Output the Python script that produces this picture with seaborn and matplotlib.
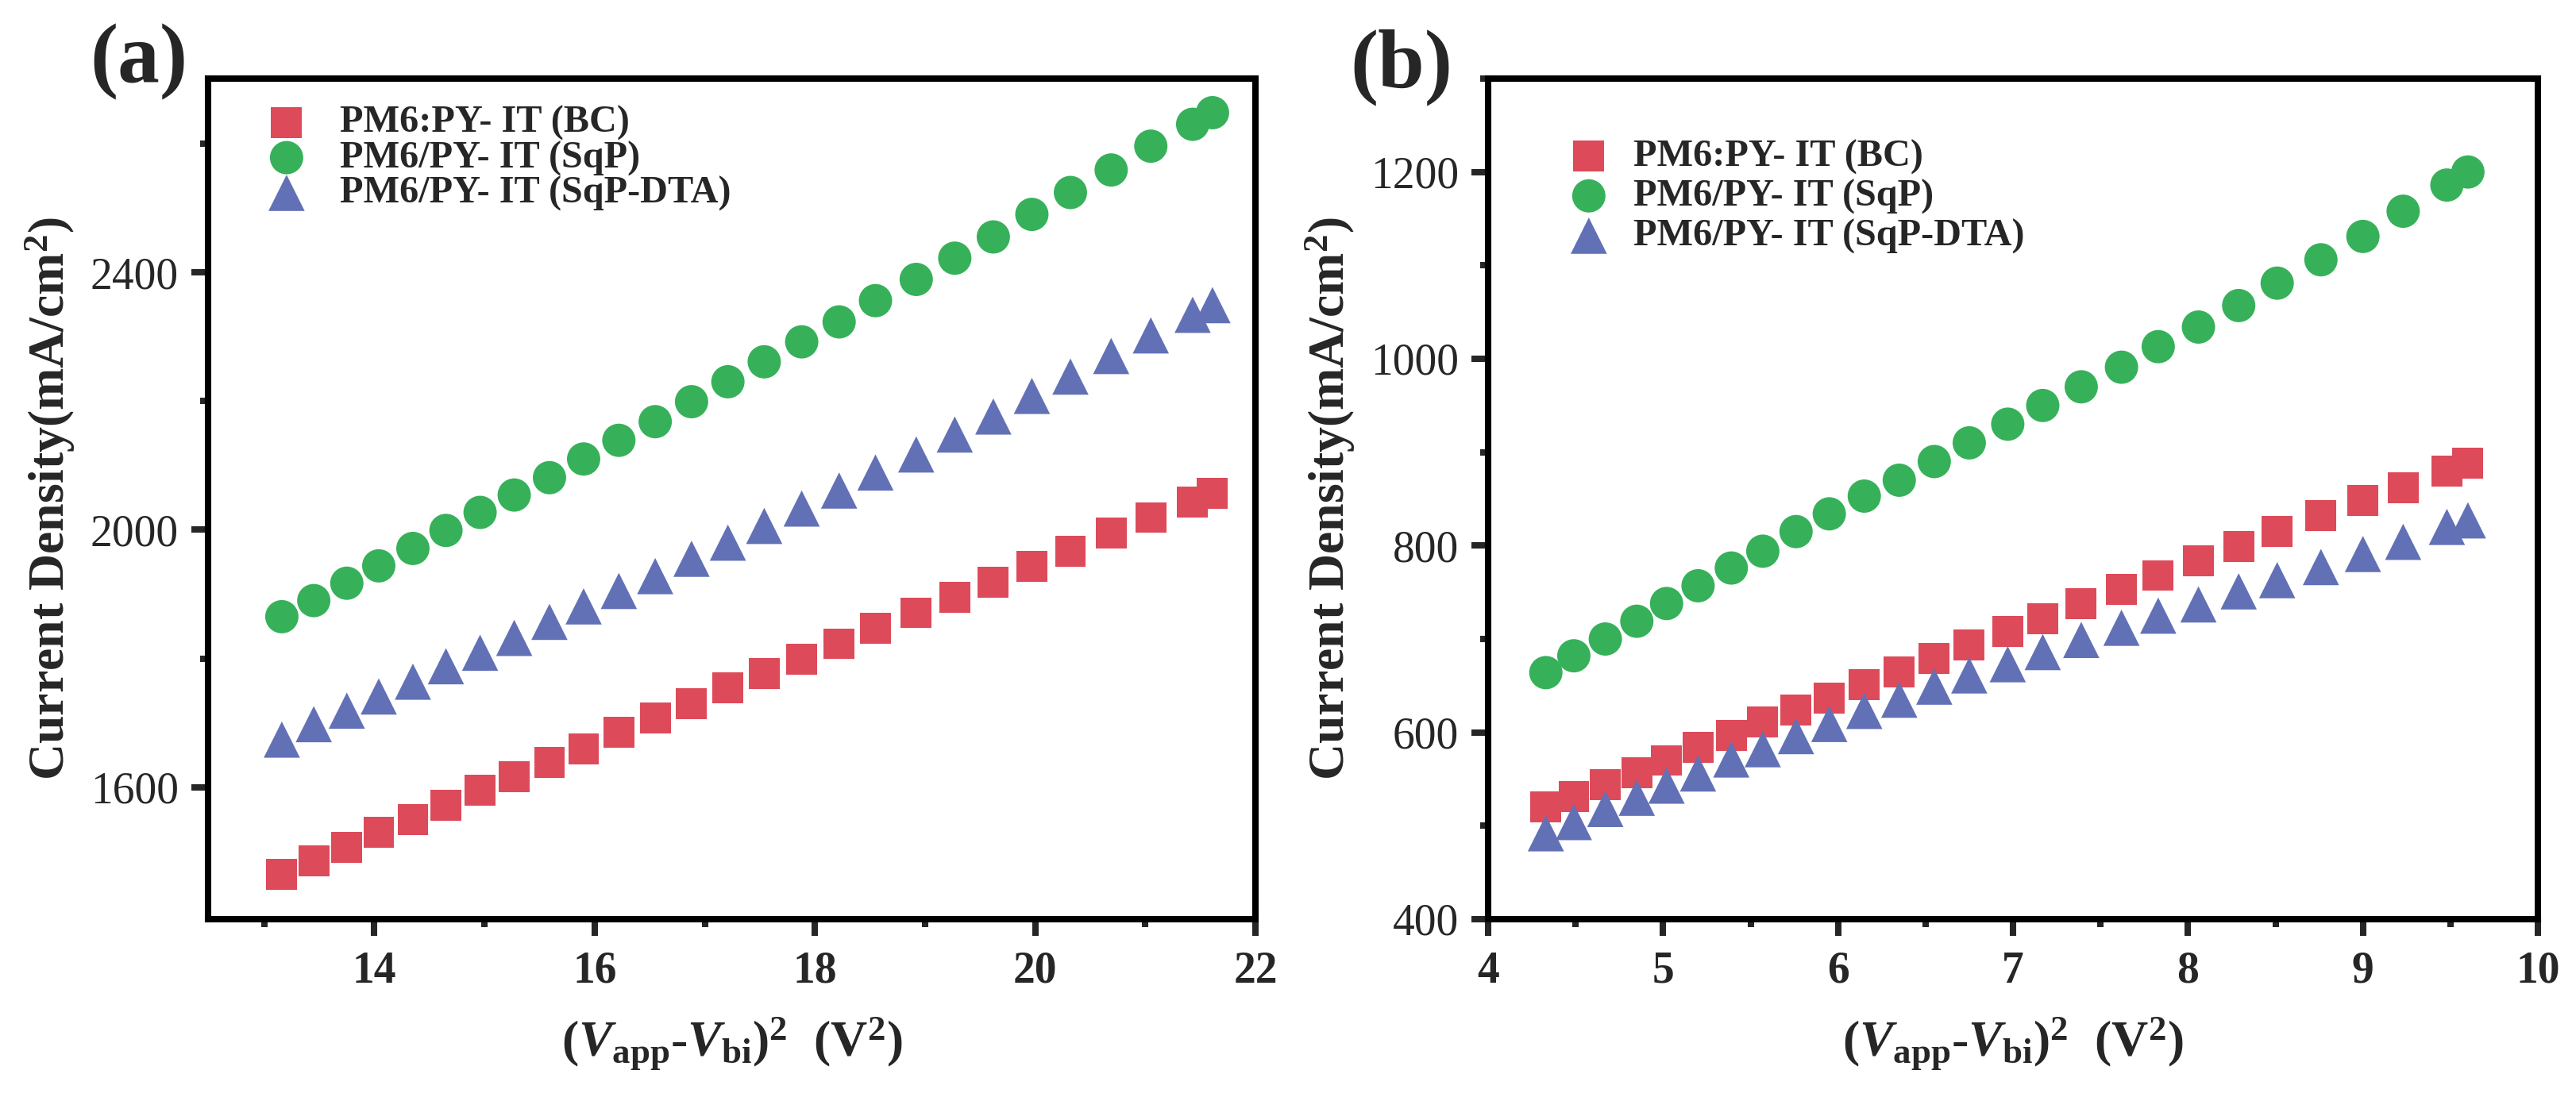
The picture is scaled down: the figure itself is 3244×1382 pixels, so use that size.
import matplotlib
matplotlib.use("Agg")
import matplotlib.pyplot as plt
from matplotlib.ticker import MultipleLocator, FixedLocator
import pandas as pd
import seaborn as sns

# ---------------------------------------------------------------------------
# Data
# ---------------------------------------------------------------------------
x_a = [13.16, 13.45, 13.75, 14.04, 14.35, 14.65, 14.96, 15.27, 15.59, 15.90,
       16.22, 16.55, 16.88, 17.21, 17.54, 17.88, 18.22, 18.55, 18.92, 19.27,
       19.62, 19.97, 20.32, 20.69, 21.05, 21.43, 21.61]
bc_a = [1465, 1486, 1507, 1530, 1550, 1572, 1595, 1616, 1639, 1660,
        1685, 1708, 1730, 1755, 1777, 1799, 1823, 1847, 1871, 1895,
        1919, 1943, 1967, 1995, 2019, 2043, 2057]
sqp_a = [1865, 1890, 1917, 1944, 1971, 1999, 2027, 2054, 2081, 2110,
         2139, 2168, 2199, 2230, 2261, 2292, 2323, 2356, 2389, 2422,
         2455, 2490, 2524, 2559, 2596, 2630, 2648]
dta_a = [1674, 1698, 1719, 1741, 1764, 1788, 1809, 1832, 1857, 1881,
         1905, 1928, 1955, 1980, 2006, 2033, 2061, 2089, 2117, 2148,
         2176, 2208, 2238, 2270, 2302, 2334, 2349]

x_b = [4.33, 4.49, 4.67, 4.85, 5.02, 5.20, 5.39, 5.57, 5.76, 5.95,
       6.15, 6.35, 6.55, 6.75, 6.97, 7.17, 7.39, 7.62, 7.83, 8.06,
       8.29, 8.51, 8.76, 9.00, 9.23, 9.48, 9.60]
bc_b = [520, 531, 544, 557, 570, 584, 597, 611, 624, 637,
        651, 665, 679, 694, 708, 722, 738, 753, 768, 784,
        799, 815, 832, 848, 862, 880, 888]
sqp_b = [664, 682, 700, 719, 738, 757, 776, 794, 815, 834,
         853, 870, 890, 910, 930, 950, 970, 991, 1013, 1034,
         1057, 1081, 1106, 1131, 1158, 1186, 1200]
dta_b = [492, 504, 518, 530, 543, 556, 571, 582, 596, 609,
         623, 635, 649, 661, 673, 686, 699, 712, 725, 737,
         751, 763, 777, 791, 804, 820, 827]

series_labels = ["PM6:PY- IT (BC)", "PM6/PY- IT (SqP)", "PM6/PY- IT (SqP-DTA)"]
series_colors = ["#DD4A5A", "#36B15A", "#6271B6"]
series_markers = ["s", "o", "^"]
series_sizes = [196, 228, 270]

# ---------------------------------------------------------------------------
# Style
# ---------------------------------------------------------------------------
sns.set_style("ticks")
plt.rcParams["font.family"] = ["Liberation Serif", "DejaVu Serif"]
plt.rcParams["mathtext.fontset"] = "custom"
plt.rcParams["mathtext.rm"] = "Liberation Serif:bold"
plt.rcParams["mathtext.it"] = "Liberation Serif:bold:italic"
plt.rcParams["mathtext.bf"] = "Liberation Serif:bold"

W, H = 3244, 1382
DPI = 200
fig = plt.figure(figsize=(W / DPI, H / DPI), dpi=DPI)

ax_a = fig.add_axes([262 / W, 1 - 1158 / H, (1581 - 262) / W, (1158 - 99) / H])
ax_b = fig.add_axes([1874 / W, 1 - 1158 / H, (3196 - 1874) / W, (1158 - 99) / H])

panels = [
    (ax_a, x_a, [bc_a, sqp_a, dta_a]),
    (ax_b, x_b, [bc_b, sqp_b, dta_b]),
]

for ax, xs, ys_list in panels:
    for ys, lab, col, mk, sz in zip(ys_list, series_labels, series_colors,
                                    series_markers, series_sizes):
        df = pd.DataFrame({"x": xs, "y": ys})
        sns.scatterplot(data=df, x="x", y="y", marker=mk, s=sz, color=col,
                        edgecolor="none", linewidth=0, label=lab, ax=ax)

# axis ranges and ticks
ax_a.set_xlim(12.49, 22)
ax_a.set_ylim(1395, 2701)
ax_a.xaxis.set_major_locator(MultipleLocator(2))
ax_a.xaxis.set_minor_locator(MultipleLocator(1))
ax_a.yaxis.set_major_locator(MultipleLocator(400))
ax_a.yaxis.set_minor_locator(FixedLocator([1800, 2200, 2600]))

ax_b.set_xlim(4, 10)
ax_b.set_ylim(400, 1300)
ax_b.xaxis.set_major_locator(MultipleLocator(1))
ax_b.xaxis.set_minor_locator(MultipleLocator(0.5))
ax_b.yaxis.set_major_locator(MultipleLocator(200))
ax_b.yaxis.set_minor_locator(MultipleLocator(100))

xlabel = r"($\mathit{V}_{\mathrm{app}}$-$\mathit{V}_{\mathrm{bi}}$)$^{2}$  (V$^{2}$)"
ylabel = r"Current Density(mA/cm$^{\mathbf{2}}$)"

legend_pos = [(0.053, 0.968, 0.79, 0.0), (0.074, 0.928, 0.56, 0.12)]

for ax, (lx, ly, tpad, lsp) in zip([ax_a, ax_b], legend_pos):
    for sp in ax.spines.values():
        sp.set_visible(True)
        sp.set_linewidth(2.9)
        sp.set_color("black")
    ax.tick_params(which="major", direction="out", length=7.6, width=2.9,
                   top=False, right=False, pad=6)
    ax.tick_params(which="minor", direction="out", length=3.6, width=2.9,
                   top=False, right=False)
    ax.tick_params(axis="x", which="major", labelsize=20, pad=6.8)
    ax.tick_params(axis="y", which="major", labelsize=20, pad=5.8)
    for t in ax.get_xticklabels():
        t.set_fontweight("bold")

    ax.set_xlabel(xlabel, fontsize=23, fontweight="bold")
    ax.xaxis.set_label_coords(0.5, -0.115)
    ax.set_ylabel(ylabel, fontsize=23, fontweight="bold")
    ax.yaxis.set_label_coords(-0.125, 0.5)

    ax.legend(loc="upper left", bbox_to_anchor=(lx, ly), frameon=False,
              borderaxespad=0, borderpad=0, handlelength=1.2,
              handletextpad=tpad, labelspacing=lsp,
              prop={"family": "Liberation Serif", "weight": "bold", "size": 17.4})

fig.text(175 / W, 1 - 78 / H, "(a)", fontsize=38, fontweight="bold",
         ha="center", va="center")
fig.text(1765 / W, 1 - 85 / H, "(b)", fontsize=38, fontweight="bold",
         ha="center", va="center")

fig.savefig("out.png", dpi=DPI)
plt.close(fig)
